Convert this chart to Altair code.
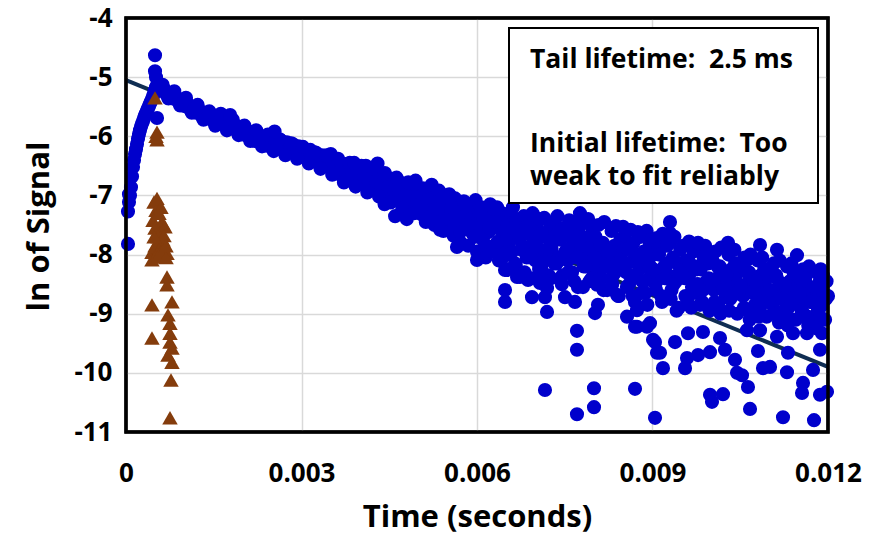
import altair as alt
import pandas as pd

FONT = "Open Sans"

# ---------------- data (time in microseconds, ln of signal) ----------------
# rising edge and peak (blue)
rise_t = [34, 34, 51, 51, 68, 85, 103, 120, 137, 154, 171, 188, 205, 222, 239, 256,
          273, 291, 308, 325, 342, 359, 376, 393, 410, 427, 444, 462, 479, 496, 513, 530,
          496, 496, 513, 530]
rise_y = [-7.82, -7.27, -7.11, -6.98, -7.00, -6.86, -6.68, -6.52, -6.40, -6.30, -6.22, -6.13,
          -6.04, -5.96, -5.90, -5.84, -5.79, -5.74, -5.69, -5.65, -5.61, -5.57, -5.53, -5.49,
          -5.45, -5.41, -5.37, -5.32, -5.27, -5.22, -5.17, -5.14,
          -4.63, -4.90, -5.00, -5.69]

# early decay band, pass A
bandA_t = [550, 600, 650, 700, 750, 800, 850, 900, 950, 1000,
           1050, 1100, 1150, 1200, 1250, 1300, 1350, 1400, 1450, 1500,
           1550, 1600, 1650, 1700, 1750, 1800, 1850, 1900, 1950, 2000,
           2050, 2100, 2150, 2200, 2250, 2300, 2350, 2400, 2450, 2500,
           2550, 2600, 2650, 2700, 2750, 2800, 2850, 2900, 2950, 3000,
           3050, 3100, 3150, 3200, 3250, 3300, 3350, 3400, 3450, 3500,
           3550, 3600, 3650, 3700, 3750, 3800, 3850, 3900, 3950, 4000,
           4050, 4100, 4150, 4200, 4250, 4300, 4350, 4400, 4450, 4500,
           4550, 4600, 4650, 4700, 4750, 4800, 4850, 4900, 4950, 5000]
bandA_y = [-5.18, -5.23, -5.20, -5.30, -5.27, -5.36, -5.33, -5.42, -5.38, -5.49,
           -5.44, -5.55, -5.50, -5.60, -5.56, -5.67, -5.60, -5.70, -5.66, -5.75,
           -5.68, -5.78, -5.72, -5.82, -5.74, -5.84, -5.80, -5.92, -5.84, -5.97,
           -5.90, -6.02, -5.93, -6.08, -5.98, -6.11, -6.02, -6.16, -6.05, -6.19,
           -6.04, -6.19, -6.07, -6.22, -6.10, -6.26, -6.13, -6.29, -6.17, -6.32,
           -6.21, -6.37, -6.23, -6.40, -6.28, -6.45, -6.32, -6.49, -6.35, -6.55,
           -6.42, -6.63, -6.45, -6.68, -6.47, -6.72, -6.50, -6.76, -6.52, -6.80,
           -6.55, -6.85, -6.58, -6.88, -6.60, -6.93, -6.64, -6.97, -6.68, -7.03,
           -6.72, -7.07, -6.75, -7.12, -6.80, -7.16, -6.84, -7.20, -6.88, -7.24]

# early decay band, pass B
bandB_t = [575, 675, 775, 875, 975, 1075, 1175, 1275, 1375, 1475,
           1575, 1675, 1775, 1875, 1975, 2075, 2175, 2275, 2375, 2475,
           2575, 2675, 2775, 2875, 2975, 3075, 3175, 3275, 3375, 3475,
           3575, 3675, 3775, 3875, 3975, 4075, 4175, 4275, 4375, 4475,
           4575, 4675, 4775, 4875, 4975]
bandB_y = [-5.22, -5.25, -5.31, -5.37, -5.43, -5.50, -5.53, -5.62, -5.65, -5.70,
           -5.74, -5.77, -5.79, -5.86, -5.91, -5.96, -6.01, -6.05, -6.09, -6.12,
           -6.12, -6.16, -6.19, -6.22, -6.26, -6.29, -6.33, -6.37, -6.42, -6.45,
           -6.53, -6.57, -6.60, -6.63, -6.67, -6.70, -6.74, -6.77, -6.81, -6.86,
           -6.90, -6.95, -6.99, -7.03, -7.07]

# early decay band, pass C (upper / lower edges)
bandC_t = [625, 725, 825, 925, 1025, 1125, 1225, 1325, 1425, 1525,
           1625, 1725, 1825, 1925, 2025, 2125, 2225, 2325, 2425, 2525,
           2625, 2725, 2825, 2925, 3025, 3125, 3225, 3325, 3425, 3525,
           3625, 3725, 3825, 3925, 4025, 4125, 4225, 4325, 4425, 4525,
           4625, 4725, 4825, 4925]
bandC_y = [-5.13, -5.36, -5.24, -5.48, -5.35, -5.60, -5.47, -5.72, -5.58, -5.82,
           -5.66, -5.90, -5.72, -5.98, -5.82, -6.08, -5.90, -6.17, -5.97, -6.25,
           -6.05, -6.32, -6.12, -6.38, -6.18, -6.46, -6.27, -6.55, -6.32, -6.65,
           -6.38, -6.78, -6.45, -6.85, -6.50, -6.95, -6.55, -7.02, -6.62, -7.12,
           -6.70, -7.22, -6.78, -7.30]

bump_t = [1620, 1780, 2540, 3500, 3900, 4100, 4300, 4420, 4600, 4700, 4950, 4800]
bump_y = [-5.62, -5.64, -5.92, -6.30, -6.45, -6.50, -6.46, -7.15, -7.35, -7.30, -6.75, -7.40]

# late noisy band, pass A
tail_t = [5025, 5050, 5075, 5100, 5125, 5150, 5175, 5200, 5225, 5250,
          5275, 5300, 5325, 5350, 5375, 5400, 5425, 5450, 5475, 5500,
          5525, 5550, 5575, 5600, 5625, 5650, 5675, 5700, 5725, 5750,
          5775, 5800, 5825, 5850, 5875, 5900, 5925, 5950, 5975, 6000,
          6025, 6050, 6075, 6100, 6125, 6150, 6175, 6200, 6225, 6250,
          6275, 6300, 6325, 6350, 6375, 6400, 6425, 6450, 6475, 6500,
          6525, 6550, 6575, 6600, 6625, 6650, 6675, 6700, 6725, 6750,
          6775, 6800, 6825, 6850, 6875, 6900, 6925, 6950, 6975, 7000,
          7025, 7050, 7075, 7100, 7125, 7150, 7175, 7200, 7225, 7250,
          7275, 7300, 7325, 7350, 7375, 7400, 7425, 7450, 7475, 7500,
          7525, 7550, 7575, 7600, 7625, 7650, 7675, 7700, 7725, 7750,
          7775, 7800, 7825, 7850, 7875, 7900, 7925, 7950, 7975, 8000,
          8025, 8050, 8075, 8100, 8125, 8150, 8175, 8200, 8225, 8250,
          8275, 8300, 8325, 8350, 8375, 8400, 8425, 8450, 8475, 8500,
          8525, 8550, 8575, 8600, 8625, 8650, 8675, 8700, 8725, 8750,
          8775, 8800, 8825, 8850, 8875, 8900, 8925, 8950, 8975, 9000,
          9025, 9050, 9075, 9100, 9125, 9150, 9175, 9200, 9225, 9250,
          9275, 9300, 9325, 9350, 9375, 9400, 9425, 9450, 9475, 9500,
          9525, 9550, 9575, 9600, 9625, 9650, 9675, 9700, 9725, 9750,
          9775, 9800, 9825, 9850, 9875, 9900, 9925, 9950, 9975, 10000,
          10025, 10050, 10075, 10100, 10125, 10150, 10175, 10200, 10225, 10250,
          10275, 10300, 10325, 10350, 10375, 10400, 10425, 10450, 10475, 10500,
          10525, 10550, 10575, 10600, 10625, 10650, 10675, 10700, 10725, 10750,
          10775, 10800, 10825, 10850, 10875, 10900, 10925, 10950, 10975, 11000,
          11025, 11050, 11075, 11100, 11125, 11150, 11175, 11200, 11225, 11250,
          11275, 11300, 11325, 11350, 11375, 11400, 11425, 11450, 11475, 11500,
          11525, 11550, 11575, 11600, 11625, 11650, 11675, 11700, 11725, 11750,
          11775, 11800, 11825, 11850, 11875, 11900, 11925, 11950, 11975, 12000]
tail_y = [-7.05, -7.32, -6.88, -7.18, -7.45, -6.95, -7.10, -7.38, -6.82, -7.22,
          -7.50, -7.02, -7.28, -6.92, -7.40, -7.15, -7.60, -7.00, -7.33, -7.12,
          -6.98, -7.45, -7.20, -7.68, -7.05, -7.35, -7.52, -7.15, -7.80, -7.25,
          -7.10, -7.55, -7.30, -7.85, -7.40, -7.22, -7.65, -7.48, -7.08, -7.95,
          -7.30, -7.60, -7.20, -7.75, -7.45, -8.05, -7.35, -7.62, -7.15, -7.88,
          -7.50, -7.25, -7.82, -7.40, -8.10, -7.58, -7.30, -7.95, -7.65, -8.25,
          -7.45, -7.80, -7.28, -7.95, -7.60, -8.15, -7.40, -7.72, -8.30, -7.55,
          -7.85, -7.35, -7.65, -8.05, -7.50, -7.90, -8.40, -7.30, -7.75, -8.10,
          -7.55, -7.95, -7.40, -8.20, -7.70, -7.38, -8.00, -7.62, -8.35, -7.50,
          -7.90, -7.45, -8.15, -7.68, -7.35, -8.05, -7.75, -8.50, -7.55, -7.98,
          -7.60, -8.10, -7.42, -7.88, -8.30, -7.70, -7.50, -8.00, -8.55, -7.65,
          -7.95, -7.48, -8.20, -7.72, -8.05, -7.40, -8.45, -7.85, -7.58, -8.15,
          -7.70, -8.25, -7.50, -8.00, -8.40, -7.80, -7.45, -8.10, -8.60, -7.90,
          -8.15, -7.60, -8.35, -7.85, -7.52, -8.05, -8.70, -7.75, -8.20, -7.95,
          -7.68, -8.30, -7.90, -8.50, -7.58, -8.12, -7.80, -8.80, -8.00, -7.62,
          -8.25, -7.70, -8.45, -7.95, -8.65, -7.60, -8.15, -7.85, -8.35, -7.75,
          -8.00, -8.50, -7.72, -8.28, -7.90, -8.70, -7.65, -8.20, -8.40, -7.85,
          -8.35, -7.80, -8.60, -8.05, -7.70, -8.45, -8.15, -8.90, -7.92, -8.25,
          -7.85, -8.40, -8.10, -8.75, -7.78, -8.30, -8.55, -7.95, -8.20, -8.65,
          -8.50, -7.90, -8.25, -8.80, -8.05, -7.85, -8.45, -8.15, -8.95, -8.00,
          -8.10, -8.60, -7.95, -8.40, -8.85, -8.20, -7.88, -8.55, -8.30, -8.70,
          -8.45, -8.00, -8.75, -8.25, -8.55, -7.92, -8.35, -9.00, -8.15, -8.60,
          -8.20, -8.70, -8.05, -8.50, -8.95, -8.30, -8.00, -8.62, -8.40, -8.85,
          -8.55, -8.10, -8.80, -8.35, -8.05, -8.65, -8.45, -9.05, -8.25, -8.70,
          -8.30, -8.85, -8.15, -8.60, -8.40, -9.00, -8.10, -8.75, -8.50, -8.95,
          -8.65, -8.20, -8.90, -8.45, -8.15, -8.75, -8.55, -9.10, -8.35, -8.80,
          -8.40, -8.95, -8.25, -8.70, -8.50, -9.05, -8.20, -8.80, -8.60, -9.15,
          -8.75, -8.30, -8.95, -8.55, -8.25, -8.85, -8.65, -9.10, -8.45, -8.70]

# late noisy band, pass B
tail2_t = [5012, 5062, 5112, 5162, 5212, 5262, 5312, 5362, 5412, 5462,
           5512, 5562, 5612, 5662, 5712, 5762, 5812, 5862, 5912, 5962,
           6012, 6062, 6112, 6162, 6212, 6262, 6312, 6362, 6412, 6462,
           6512, 6562, 6612, 6662, 6712, 6762, 6812, 6862, 6912, 6962,
           7012, 7062, 7112, 7162, 7212, 7262, 7312, 7362, 7412, 7462,
           7512, 7562, 7612, 7662, 7712, 7762, 7812, 7862, 7912, 7962,
           8012, 8062, 8112, 8162, 8212, 8262, 8312, 8362, 8412, 8462,
           8512, 8562, 8612, 8662, 8712, 8762, 8812, 8862, 8912, 8962,
           9012, 9062, 9112, 9162, 9212, 9262, 9312, 9362, 9412, 9462,
           9512, 9562, 9612, 9662, 9712, 9762, 9812, 9862, 9912, 9962,
           10012, 10062, 10112, 10162, 10212, 10262, 10312, 10362, 10412, 10462,
           10512, 10562, 10612, 10662, 10712, 10762, 10812, 10862, 10912, 10962,
           11012, 11062, 11112, 11162, 11212, 11262, 11312, 11362, 11412, 11462,
           11512, 11562, 11612, 11662, 11712, 11762, 11812, 11862, 11912, 11962]
tail2_y = [-7.15, -7.00, -7.28, -7.08, -7.35, -7.12, -7.22, -7.45, -7.05, -7.30,
           -7.38, -7.20, -7.50, -7.28, -7.62, -7.35, -7.18, -7.55, -7.42, -7.70,
           -7.48, -7.70, -7.38, -7.85, -7.55, -7.95, -7.45, -7.78, -8.10, -7.60,
           -7.72, -8.00, -7.55, -8.18, -7.68, -7.92, -8.30, -7.62, -8.05, -7.80,
           -7.85, -8.25, -7.65, -8.10, -7.90, -8.40, -7.75, -8.15, -7.60, -8.35,
           -7.95, -8.30, -7.70, -8.45, -8.05, -7.80, -8.55, -8.20, -7.90, -8.40,
           -8.05, -8.45, -7.82, -8.60, -8.20, -7.95, -8.50, -8.30, -8.70, -8.10,
           -8.15, -8.55, -7.90, -8.70, -8.35, -8.05, -8.65, -8.45, -8.85, -8.20,
           -8.25, -8.60, -8.00, -8.80, -8.40, -8.15, -8.75, -8.50, -8.95, -8.30,
           -8.35, -8.70, -8.10, -8.90, -8.50, -8.25, -8.85, -8.60, -8.05, -8.40,
           -8.45, -8.80, -8.20, -9.00, -8.60, -8.35, -8.95, -8.70, -8.15, -8.50,
           -8.55, -8.90, -8.30, -9.10, -8.65, -8.45, -9.05, -8.80, -8.25, -8.60,
           -8.60, -9.00, -8.35, -9.15, -8.75, -8.50, -9.20, -8.85, -8.30, -8.70,
           -8.65, -9.05, -8.40, -9.20, -8.80, -8.55, -9.25, -8.90, -8.35, -8.75]

# scattered low points
low_t = [6479, 6479, 6940, 7197, 7709, 7709, 7162, 8000, 8701, 7709, 8000, 8017, 8068, 8564,
         9043, 6479, 6684, 6872, 7128, 7197, 7162, 7504, 7675, 8051, 8393, 8735, 8735, 8906,
         9009, 9077, 5658, 5368, 6000, 6513, 6735, 7077,
         9983, 10205, 10017, 10667, 11231, 11761, 11573, 11556, 11863, 11983, 10632, 10530,
         10445, 11744, 11299, 11316, 10803, 11009, 10889, 10410, 10239, 10154, 9983, 9778,
         9590, 9556, 9179, 9128, 9043, 9385, 9607, 9863, 8701, 8957, 11863, 11863, 11897,
         11641, 11402, 11128, 10838, 10615, 10838, 11299, 11573]
low_y = [-8.80, -8.60, -8.72, -8.97, -9.29, -9.61, -10.29, -10.26, -10.27, -10.70, -10.58, -8.99,
         -8.85, -9.05, -10.76, -8.26, -8.38, -8.43, -8.43, -8.57, -8.72, -8.72, -8.80, -8.51,
         -8.68, -8.94, -9.22, -9.22, -9.44, -9.66, -7.87, -7.58, -8.09, -8.26, -8.38, -8.48,
         -10.37, -10.36, -10.49, -10.61, -10.75, -10.80, -10.17, -10.34, -10.37, -10.32, -10.24,
         -10.04, -10.00, -9.95, -9.99, -9.66, -9.63, -9.90, -9.92, -9.78, -9.61, -9.41, -9.65,
         -9.70, -9.75, -9.92, -9.92, -9.66, -9.48, -9.48, -9.33, -9.31, -9.22, -9.16, -9.61,
         -9.05, -9.33, -9.33, -9.33, -9.39, -9.28, -9.28, -8.90, -9.05, -8.99]

# scattered high points
high_t = [9299, 9299, 9778, 10291, 10838, 11128, 11470, 8496, 8786, 11863, 10615,
          6342, 6615, 6957, 7760]
high_y = [-7.45, -7.64, -7.80, -7.80, -7.84, -7.92, -8.01, -7.53, -7.64, -8.43, -8.09,
          -7.20, -7.20, -7.33, -7.30]

# brown triangles
tri_t = [496, 530, 530, 513, 479, 513, 462, 615, 581, 667, 444, 615, 701, 444, 547, 701,
         701, 444, 786, 718, 752, 444, 752, 752, 786, 718, 786, 769, 752,
         530, 564, 598, 496, 547, 632, 496, 564, 650, 530, 598, 684, 684, 480]
tri_y = [-5.35, -5.93, -6.06, -6.00, -7.11, -7.25, -7.42, -7.45, -7.64, -7.53, -7.96, -7.87,
         -7.98, -8.09, -8.04, -8.38, -8.51, -8.85, -8.80, -9.02, -9.16, -9.41, -9.33, -9.48,
         -9.58, -9.70, -9.82, -10.12, -10.76,
         -7.05, -7.30, -7.20, -7.55, -7.70, -7.75, -7.85, -7.92, -7.68, -8.00, -7.95, -8.05,
         -7.85, -7.70]

# fitted tail line (end points)
fit_t = [0, 12000]
fit_y = [-5.05, -9.90]

x_ticks = [0, 0.003, 0.006, 0.009, 0.012]
y_ticks = [-11, -10, -9, -8, -7, -6, -5, -4]

# ---------------- tables ----------------
blue_t = rise_t + bandA_t + bandB_t + bandC_t + bump_t + tail_t + tail2_t + low_t + high_t
blue_y = rise_y + bandA_y + bandB_y + bandC_y + bump_y + tail_y + tail2_y + low_y + high_y
blue_df = pd.DataFrame({"t": [v / 1e6 for v in blue_t], "y": blue_y})
tri_df = pd.DataFrame({"t": [v / 1e6 for v in tri_t], "y": tri_y})
fit_df = pd.DataFrame({"t": [v / 1e6 for v in fit_t], "y": fit_y})

x_enc = alt.X(
    "t:Q",
    scale=alt.Scale(domain=[0, 0.012], nice=False, zero=False),
    axis=alt.Axis(
        values=x_ticks,
        labelExpr="datum.value == 0 ? '0' : format(datum.value, '.3f')",
        labelPadding=28,
        labelFlush=False,
        labelOverlap=False,
        title="Time (seconds)",
        titleY=94,
        titleBaseline="alphabetic",
    ),
)
y_enc = alt.Y(
    "y:Q",
    scale=alt.Scale(domain=[-11, -4], nice=False, zero=False),
    axis=alt.Axis(
        values=y_ticks,
        labelExpr="datum.value + ''",
        labelPadding=14,
        labelFlush=False,
        labelOverlap=False,
        title="ln of Signal",
        titleAngle=270,
        titleX=-78,
        titleY=208,
        titleAlign="center",
        titleBaseline="alphabetic",
    ),
)

fit_line = alt.Chart(fit_df).mark_line(color="#0F2D52", strokeWidth=4).encode(x=x_enc, y=y_enc)

blue = alt.Chart(blue_df).mark_circle(size=200, color="#0000CC", opacity=1).encode(x=x_enc, y=y_enc)

tri = alt.Chart(tri_df).mark_point(
    shape="triangle-up", filled=True, size=240, color="#843C0C", opacity=1
).encode(x=x_enc, y=y_enc)

note_df = pd.DataFrame({"k": [0]})

frame = alt.Chart(note_df).mark_rect(fill="transparent", stroke="black", strokeWidth=3.5).encode(
    x=alt.value(0), x2=alt.value(702), y=alt.value(0), y2=alt.value(414)
)

box = alt.Chart(note_df).mark_rect(fill="white", stroke="black", strokeWidth=2).encode(
    x=alt.value(383), x2=alt.value(692), y=alt.value(10), y2=alt.value(185)
)

def note(txt, ypix):
    return alt.Chart(note_df).mark_text(
        align="left", baseline="alphabetic", font=FONT, fontSize=26.5,
        fontWeight="bold", color="black"
    ).encode(x=alt.value(404), y=alt.value(ypix), text=alt.value(txt))

t1 = note("Tail lifetime:\u00a0 2.5 ms", 50)
t2 = note("Initial lifetime:\u00a0 Too", 134)
t3 = note("weak to fit reliably", 167)

chart = (
    alt.layer(fit_line, blue, tri, frame, box, t1, t2, t3)
    .properties(
        width=702,
        height=414,
        autosize=alt.AutoSizeParams(type="none"),
        padding={"left": 126, "top": 18, "right": 45, "bottom": 103},
        background="white",
    )
    .configure_view(stroke="black", strokeWidth=3)
    .configure_axis(
        domain=False,
        ticks=False,
        grid=True,
        gridColor="#D9D9D9",
        gridWidth=1.5,
        labelFont=FONT,
        labelFontSize=26,
        labelFontWeight="bold",
        labelColor="black",
        titleFont=FONT,
        titleFontSize=31,
        titleFontWeight="bold",
        titleColor="black",
    )
)

chart.save("out.html", embed_options={"renderer": "svg", "actions": False})
